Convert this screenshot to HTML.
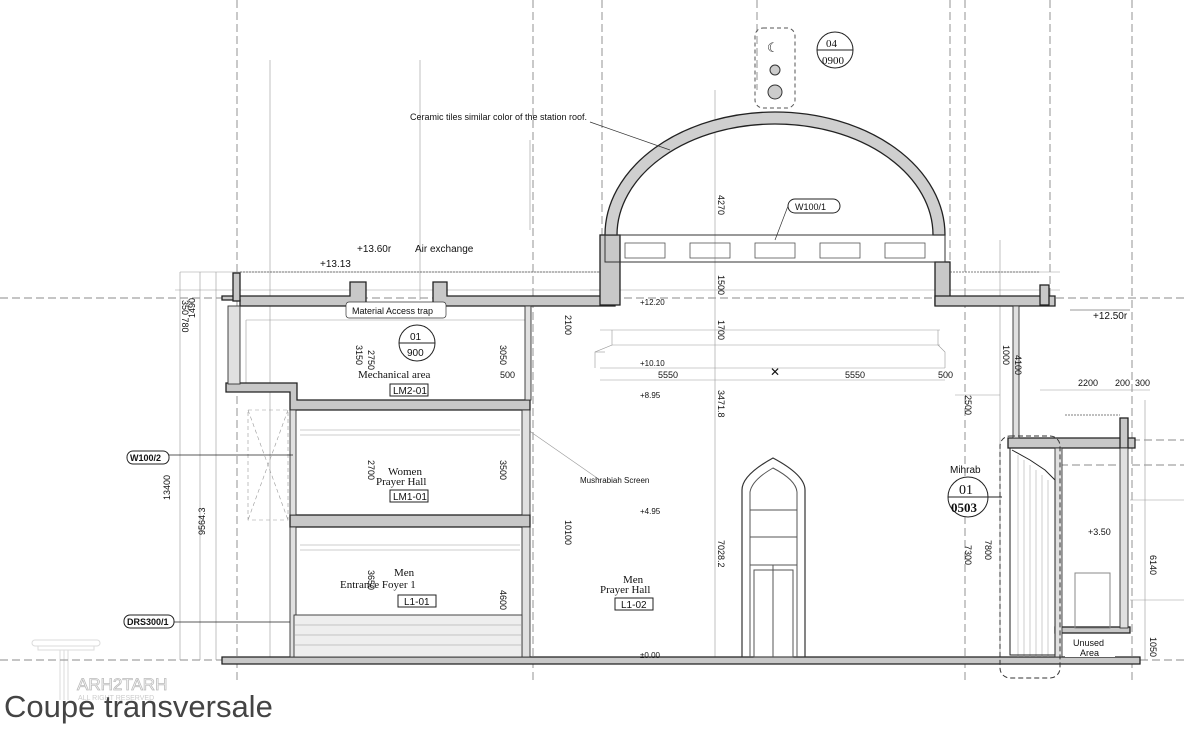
<!DOCTYPE html>
<html><head><meta charset="utf-8"><style>
html,body{margin:0;padding:0;background:#fff;width:1184px;height:735px;overflow:hidden}
svg{display:block}
text{font-family:"Liberation Sans",sans-serif;fill:#111}
.s{font-family:"Liberation Serif",serif}
.d{font-size:9px;fill:#222}
</style></head><body>
<svg width="1184" height="735" viewBox="0 0 1184 735" xmlns="http://www.w3.org/2000/svg">
<g stroke="#666" stroke-width="0.7" stroke-dasharray="8,4" fill="none">
<line x1="237" y1="0" x2="237" y2="680"/><line x1="533" y1="0" x2="533" y2="680"/>
<line x1="602" y1="0" x2="602" y2="240"/><line x1="757" y1="0" x2="757" y2="90"/>
<line x1="950" y1="0" x2="950" y2="260"/><line x1="1050" y1="0" x2="1050" y2="300"/>
<line x1="1132" y1="0" x2="1132" y2="680"/><line x1="965" y1="0" x2="965" y2="680"/>
<line x1="0" y1="298" x2="1184" y2="298"/><line x1="0" y1="660" x2="1184" y2="660"/>
<line x1="1060" y1="440" x2="1184" y2="440"/><line x1="1060" y1="465" x2="1184" y2="465"/>
</g>
<g stroke="#999" stroke-width="0.6" fill="none">
<line x1="180" y1="272" x2="180" y2="660"/><line x1="200" y1="272" x2="200" y2="660"/><line x1="216" y1="272" x2="216" y2="660"/>
<line x1="180" y1="272" x2="600" y2="272"/><line x1="175" y1="290" x2="600" y2="290"/>
<line x1="270" y1="60" x2="270" y2="660"/><line x1="420" y1="60" x2="420" y2="300"/>
<line x1="715" y1="90" x2="715" y2="660"/><line x1="1000" y1="240" x2="1000" y2="660"/>
<line x1="530" y1="140" x2="530" y2="230"/><line x1="590" y1="290" x2="1060" y2="290"/>
<line x1="980" y1="272" x2="1060" y2="272"/>
<line x1="1040" y1="390" x2="1150" y2="390"/><line x1="1145" y1="400" x2="1145" y2="660"/>
<line x1="1130" y1="500" x2="1184" y2="500"/><line x1="1130" y1="600" x2="1184" y2="600"/>
<line x1="955" y1="395" x2="1000" y2="395"/>
<line x1="600" y1="330" x2="940" y2="330"/><line x1="600" y1="368" x2="945" y2="368"/>
<line x1="612" y1="345" x2="940" y2="345"/><line x1="595" y1="352" x2="605" y2="352"/>
<line x1="600" y1="380" x2="945" y2="380"/>
<path d="M612 330 L612 345 L595 352 L595 368 M938 330 L938 345 L945 352 L945 368"/>
<line x1="246" y1="320" x2="246" y2="383"/><line x1="246" y1="320" x2="525" y2="320"/>
<line x1="300" y1="430" x2="520" y2="430"/><line x1="300" y1="435" x2="520" y2="435"/>
<line x1="300" y1="545" x2="520" y2="545"/><line x1="300" y1="550" x2="520" y2="550"/>
<line x1="295" y1="620" x2="520" y2="620"/>
<path d="M248 410 L288 410 L288 520 L248 520 Z M248 410 L288 520 M288 410 L248 520" stroke-dasharray="4,3"/>
<line x1="528" y1="430" x2="600" y2="480"/>
</g>
<g fill="#c8c8c8" stroke="#222" stroke-width="1.3">
<path d="M222 296 L350 296 L350 282 L366 282 L366 306 L240 306 L240 300 L222 300 Z"/>
<path d="M433 282 L447 282 L447 296 L615 296 L615 306 L433 306 Z"/>
<rect x="233" y="273" width="7" height="28"/>
<path d="M226 383 L297 383 L297 400 L530 400 L530 410 L290 410 L290 392 L226 392 Z"/>
<rect x="290" y="515" width="240" height="12"/>
<rect x="600" y="235" width="20" height="70"/>
<rect x="935" y="262" width="15" height="43"/>
<path d="M935 296 L1055 296 L1055 306 L935 306 Z"/>
<rect x="1040" y="285" width="9" height="20"/>
<path d="M1008 438 L1135 438 L1135 448 L1008 448 Z"/>
<rect x="1120" y="418" width="8" height="30"/>
<rect x="1055" y="627" width="75" height="6"/>
<path d="M222 657 L1140 657 L1140 664 L222 664 Z"/>
</g>
<g fill="#e0e0e0" stroke="#333" stroke-width="0.9">
<rect x="228" y="306" width="12" height="78"/>
<rect x="290" y="410" width="6" height="105"/><rect x="290" y="527" width="6" height="130"/>
<rect x="525" y="306" width="6" height="94"/><rect x="522" y="410" width="8" height="105"/><rect x="522" y="527" width="8" height="130"/>
<rect x="1013" y="306" width="6" height="132"/><rect x="1055" y="448" width="7" height="209"/>
<rect x="1120" y="448" width="8" height="180"/>
<rect x="294" y="615" width="228" height="42" fill="#eee"/>
</g>
<g stroke="#999" stroke-width="0.5">
<line x1="294" y1="625" x2="522" y2="625"/><line x1="294" y1="635" x2="522" y2="635"/><line x1="294" y1="645" x2="522" y2="645"/>
<line x1="1018" y1="455" x2="1018" y2="657"/><line x1="1024" y1="460" x2="1024" y2="657"/><line x1="1030" y1="465" x2="1030" y2="657"/><line x1="1036" y1="470" x2="1036" y2="657"/><line x1="1042" y1="475" x2="1042" y2="657"/><line x1="1048" y1="480" x2="1048" y2="657"/>
</g>
<path d="M1010 448 L1010 655 L1055 655 L1055 480 L1045 470 L1030 460 L1012 450" fill="none" stroke="#222"/>
<rect x="1000" y="436" width="60" height="242" rx="10" fill="none" stroke="#333" stroke-dasharray="5,3"/>
<rect x="1075" y="573" width="35" height="55" fill="none" stroke="#888"/>
<g stroke="#555" stroke-width="0.7" fill="none" stroke-dasharray="2,1">
<line x1="240" y1="272" x2="600" y2="272"/><line x1="950" y1="272" x2="1040" y2="272"/><line x1="1065" y1="415" x2="1120" y2="415"/>
</g>
<path d="M605 235 A170 123 0 0 1 945 235 L933 235 A158 111 0 0 0 617 235 Z" fill="#cfcfcf" stroke="#222" stroke-width="1.3"/>
<rect x="605" y="235" width="340" height="27" fill="none" stroke="#333"/>
<g fill="none" stroke="#555" stroke-width="0.8">
<rect x="625" y="243" width="40" height="15"/><rect x="690" y="243" width="40" height="15"/><rect x="755" y="243" width="40" height="15"/><rect x="820" y="243" width="40" height="15"/><rect x="885" y="243" width="40" height="15"/>
</g>
<rect x="755" y="28" width="40" height="80" rx="8" fill="none" stroke="#555" stroke-dasharray="4,3"/>
<circle cx="775" cy="70" r="5" fill="#ccc" stroke="#333"/><circle cx="775" cy="92" r="7" fill="#ccc" stroke="#333"/>
<text x="767" y="52" font-size="13">☾</text>
<path d="M742 657 L742 490 Q742 475 773 458 Q805 475 805 490 L805 657" fill="none" stroke="#333" stroke-width="1.2"/>
<path d="M750 657 L750 492 Q752 480 773 468 Q796 480 797 492 L797 657" fill="none" stroke="#555"/>
<g stroke="#555" fill="none"><line x1="750" y1="510" x2="797" y2="510"/><line x1="750" y1="537" x2="797" y2="537"/><line x1="750" y1="565" x2="797" y2="565"/><line x1="773" y1="565" x2="773" y2="657"/><rect x="754" y="570" width="39" height="87"/></g>
<circle cx="835" cy="50" r="18" fill="#fff" stroke="#222"/><line x1="817" y1="50" x2="853" y2="50" stroke="#222"/>
<text x="826" y="47" font-size="11" class="s">04</text><text x="822" y="64" font-size="11" class="s">0900</text>
<circle cx="417" cy="343" r="18" fill="#fff" stroke="#222"/><line x1="399" y1="343" x2="435" y2="343" stroke="#222"/>
<text x="410" y="340" font-size="10">01</text><text x="407" y="356" font-size="10">900</text>
<circle cx="968" cy="497" r="20" fill="#fff" stroke="#222"/><line x1="948" y1="497" x2="988" y2="497" stroke="#222"/>
<line x1="988" y1="497" x2="1002" y2="497" stroke="#222"/>
<text x="959" y="494" font-size="14" class="s">01</text><text x="951" y="512" font-size="13" class="s" font-weight="bold">0503</text>
<text x="950" y="473" font-size="10">Mihrab</text>
<text x="410" y="120" font-size="9">Ceramic tiles similar color of the station roof.</text>
<line x1="590" y1="122" x2="670" y2="150" stroke="#333" stroke-width="0.7"/>
<rect x="788" y="199" width="52" height="14" rx="7" fill="#fff" stroke="#222"/><text x="795" y="210" font-size="9">W100/1</text>
<line x1="788" y1="206" x2="775" y2="240" stroke="#333" stroke-width="0.7"/>
<text x="357" y="252" font-size="10">+13.60r</text><text x="415" y="252" font-size="10">Air exchange</text>
<text x="320" y="267" font-size="10">+13.13</text>
<text x="1093" y="319" font-size="10">+12.50r</text><line x1="1070" y1="310" x2="1130" y2="310" stroke="#333" stroke-width="0.6"/>
<rect x="346" y="302" width="100" height="16" rx="3" fill="#fff" stroke="#333" stroke-width="0.7"/>
<text x="352" y="314" font-size="9">Material Access trap</text>
<text x="358" y="378" font-size="11" class="s">Mechanical  area</text>
<rect x="390" y="384" width="38" height="12" fill="#fff" stroke="#222"/><text x="393" y="394" font-size="10">LM2-01</text>
<text x="388" y="475" font-size="11" class="s">Women</text><text x="376" y="485" font-size="11" class="s">Prayer  Hall</text>
<rect x="390" y="490" width="38" height="12" fill="#fff" stroke="#222"/><text x="393" y="500" font-size="10">LM1-01</text>
<text x="394" y="576" font-size="11" class="s">Men</text><text x="340" y="588" font-size="11" class="s">Entrance  Foyer  1</text>
<rect x="398" y="595" width="38" height="12" fill="#fff" stroke="#222"/><text x="404" y="605" font-size="10">L1-01</text>
<text x="623" y="583" font-size="11" class="s">Men</text><text x="600" y="593" font-size="11" class="s">Prayer  Hall</text>
<rect x="615" y="598" width="38" height="12" fill="#fff" stroke="#222"/><text x="621" y="608" font-size="10">L1-02</text>
<text x="580" y="483" font-size="8">Mushrabiah Screen</text>
<rect x="127" y="451" width="42" height="13" rx="6" fill="#fff" stroke="#222"/><text x="130" y="461" font-size="9" font-weight="bold">W100/2</text>
<line x1="169" y1="455" x2="293" y2="455" stroke="#222" stroke-width="0.7"/>
<rect x="124" y="615" width="50" height="13" rx="6" fill="#fff" stroke="#222"/><text x="127" y="625" font-size="9" font-weight="bold">DRS300/1</text>
<line x1="174" y1="622" x2="290" y2="622" stroke="#222" stroke-width="0.7"/>
<text x="1088" y="535" font-size="9">+3.50</text>
<rect x="1065" y="637" width="50" height="20" fill="#fff"/>
<text x="1073" y="646" font-size="9">Unused</text><text x="1080" y="656" font-size="9">Area</text>
<g class="d">
<text x="500" y="378">500</text><text x="658" y="378">5550</text><text x="845" y="378">5550</text><text x="938" y="378">500</text>
<text x="1078" y="386">2200</text><text x="1115" y="386">200</text><text x="1135" y="386">300</text>
<text x="640" y="305" font-size="8">+12.20</text><text x="640" y="366" font-size="8">+10.10</text>
<text x="640" y="398" font-size="8">+8.95</text><text x="640" y="514" font-size="8">+4.95</text><text x="640" y="658" font-size="8">±0.00</text>
<text x="770" y="376" font-size="12">✕</text>
</g>
<g class="d" font-size="8">
<text transform="translate(182,300) rotate(90)">350 780</text>
<text transform="translate(195,318) rotate(-90)">1490</text>
<text transform="translate(170,500) rotate(-90)">13400</text>
<text transform="translate(205,535) rotate(-90)">9564.3</text>
<text transform="translate(718,195) rotate(90)">4270</text>
<text transform="translate(718,275) rotate(90)">1500</text>
<text transform="translate(718,320) rotate(90)">1700</text>
<text transform="translate(718,390) rotate(90)">3471.8</text>
<text transform="translate(718,540) rotate(90)">7028.2</text>
<text transform="translate(965,395) rotate(90)">2500</text>
<text transform="translate(965,545) rotate(90)">7300</text>
<text transform="translate(985,540) rotate(90)">7800</text>
<text transform="translate(565,315) rotate(90)">2100</text>
<text transform="translate(565,520) rotate(90)">10100</text>
<text transform="translate(1150,555) rotate(90)">6140</text>
<text transform="translate(1150,637) rotate(90)">1050</text>
<text transform="translate(1015,355) rotate(90)">4100</text>
<text transform="translate(1003,345) rotate(90)">1000</text>
<text transform="translate(500,345) rotate(90)">3050</text>
<text transform="translate(356,345) rotate(90)">3150</text>
<text transform="translate(368,350) rotate(90)">2750</text>
<text transform="translate(500,460) rotate(90)">3500</text>
<text transform="translate(368,460) rotate(90)">2700</text>
<text transform="translate(368,570) rotate(90)">3650</text>
<text transform="translate(500,590) rotate(90)">4600</text>
</g>
<g opacity="0.35" fill="none" stroke="#999">
<rect x="32" y="640" width="68" height="6" rx="3"/><rect x="38" y="646" width="56" height="4"/>
<line x1="60" y1="650" x2="60" y2="700"/><line x1="64" y1="650" x2="64" y2="700"/><line x1="68" y1="650" x2="68" y2="700"/>
</g>
<text x="77" y="690" font-size="17" stroke="#bbb" stroke-width="0.8" style="fill:none">ARH2TARH</text>
<text x="78" y="700" font-size="7" style="fill:#ccc">ALL RIGHT RESERVED</text>
<text x="4" y="717" font-size="31" style="fill:#444">Coupe transversale</text>
</svg>
</body></html>
